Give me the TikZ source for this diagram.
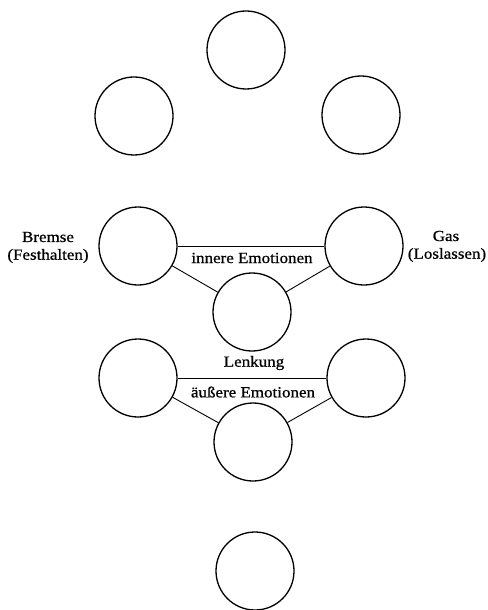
\documentclass[tikz,border=0pt]{standalone}
\usepackage{fontspec}
\setmainfont{Liberation Serif}[FakeStretch=1.1,FakeBold=0.8]
\begin{document}
\begin{tikzpicture}[x=1bp,y=-1bp,
  ring/.style={draw,circle,minimum size=78bp,inner sep=0pt,line width=1.3bp},
  link/.style={line width=0.9bp},
  lbl/.style={inner sep=0pt,font=\fontsize{15.5}{18}\selectfont}]
\useasboundingbox (0,0) rectangle (488,610);
\node[ring] (top) at (246,50) {};
\node[ring] (l1) at (134,116) {};
\node[ring] (r1) at (361,115) {};
\node[ring] (l2) at (138,246) {};
\node[ring] (r2) at (364,246) {};
\node[ring] (m2) at (252,312) {};
\node[ring] (l3) at (138,378) {};
\node[ring] (r3) at (366,378) {};
\node[ring] (m3) at (253,442) {};
\node[ring] (bot) at (255,571) {};
\draw[link] (l2) -- (r2);
\draw[link] (l2) -- (m2);
\draw[link] (r2) -- (m2);
\draw[link] (l3) -- (r3);
\draw[link] (l3) -- (m3);
\draw[link] (r3) -- (m3);
\node[lbl] (bremse) at (48,237) {Bremse};
\node[lbl] (fest) at (48,256) {(Festhalten)};
\node[lbl] (gas) at (446,236) {Gas};
\node[lbl] (los) at (447,255) {(Loslassen)};
\node[lbl] (inner) at (252,258) {innere Emotionen};
\node[lbl] (lenk) at (254,363) {Lenkung};
\node[lbl] (aeuss) at (253,392) {äußere Emotionen};
\end{tikzpicture}
\end{document}
